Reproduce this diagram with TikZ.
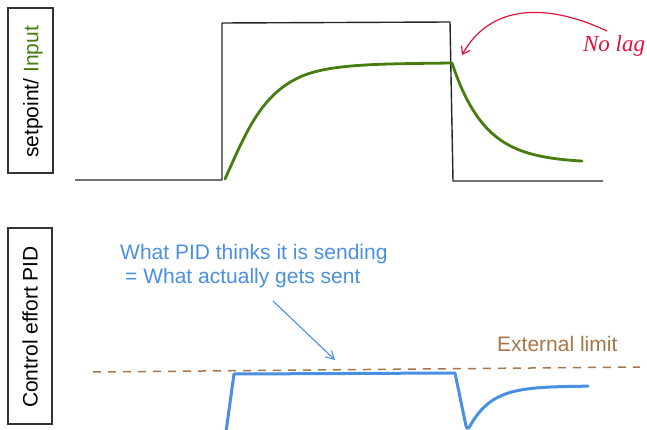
\documentclass[tikz,border=0pt]{standalone}
\usepackage{fontspec}
\setmainfont{Liberation Sans}
\newfontfamily\serifit{Liberation Serif}
\usetikzlibrary{arrows.meta}
\definecolor{plotgreen}{RGB}{70,125,15}
\definecolor{plotblue}{RGB}{74,144,226}
\definecolor{limitbrown}{RGB}{166,118,74}
\definecolor{lagred}{RGB}{222,20,60}
\tikzset{
  labelbox/.style={draw=black!80, line width=1.1pt},
  axislabel/.style={rotate=90, font=\fontsize{21}{24}\selectfont, inner sep=0pt},
  setpointline/.style={draw=black!85, line width=1.4pt, line join=round},
  greencurve/.style={draw=plotgreen, line width=2.8pt, line join=round, line cap=round},
  bluecurve/.style={draw=plotblue, line width=3pt, line join=round, line cap=round},
  limitline/.style={draw=limitbrown, line width=1.5pt, dash pattern=on 8pt off 7pt},
  notetext/.style={font=\fontsize{21}{24}\selectfont, inner sep=0pt},
}
\begin{document}
\begin{tikzpicture}[x=1pt, y=-1pt]
\useasboundingbox (0,0) rectangle (647,430);
\clip (0,0) rectangle (647,430);

% left label boxes
\draw[labelbox] (8,8) rectangle (53,173);
\node[axislabel] (toplabel) at (33,92) {setpoint/ \textcolor{plotgreen}{Input}};
\draw[labelbox] (8,228) rectangle (52,424);
\node[axislabel] (botlabel) at (30,327) {Control effort PID};

% setpoint square wave
\draw[setpointline] (75,180) -- (222,180) -- (222,23) -- (450,22) -- (453,181) -- (603,181);

% green input response
\draw[greencurve] (225,179) .. controls (245,135) and (260,95) .. (300,77)
  .. controls (330,63.5) and (380,64) .. (451,63)
  -- plot[domain=452:582, samples=40] (\x, {63+100*(1-exp(-(\x-452)/33))});

% No lag annotation
\coordinate (lagtip) at (462,55);
\node[text=lagred, font=\serifit\itshape\fontsize{23}{26}\selectfont, inner sep=0pt] (nolag) at (614,46) {No lag};
\coordinate (lagstart) at (607,31);
\draw[draw=lagred, line width=1.2pt, -{Straight Barb[length=7pt,width=10pt]}] (lagstart) .. controls (545,2) and (490,5) .. (lagtip);

% bottom plot
\node[notetext, text=plotblue, anchor=west] (note1) at (120,254) {What PID thinks it is sending};
\node[notetext, text=plotblue, anchor=west] (note2) at (125,278) {= What actually gets sent};
\coordinate (notetip) at (335,360);
\coordinate (notestart) at (273,301);
\draw[draw=plotblue, line width=1.1pt, -{Straight Barb[length=8pt,width=9pt]}] (notestart) -- (notetip);

\node[notetext, text=limitbrown, anchor=west] (limitlabel) at (497,344) {External limit};
\coordinate (limA) at (93,372);
\coordinate (limB) at (640,367);
\draw[limitline] (limA) -- (limB);

\draw[bluecurve] (226,432) -- (234,374) -- (455,373) -- (466,426)
  .. controls (467,429) and (468,429) .. (470,426)
  -- plot[domain=470:588, samples=40] (\x, {386+40*exp(-(\x-470)/22)});
\end{tikzpicture}
\end{document}
